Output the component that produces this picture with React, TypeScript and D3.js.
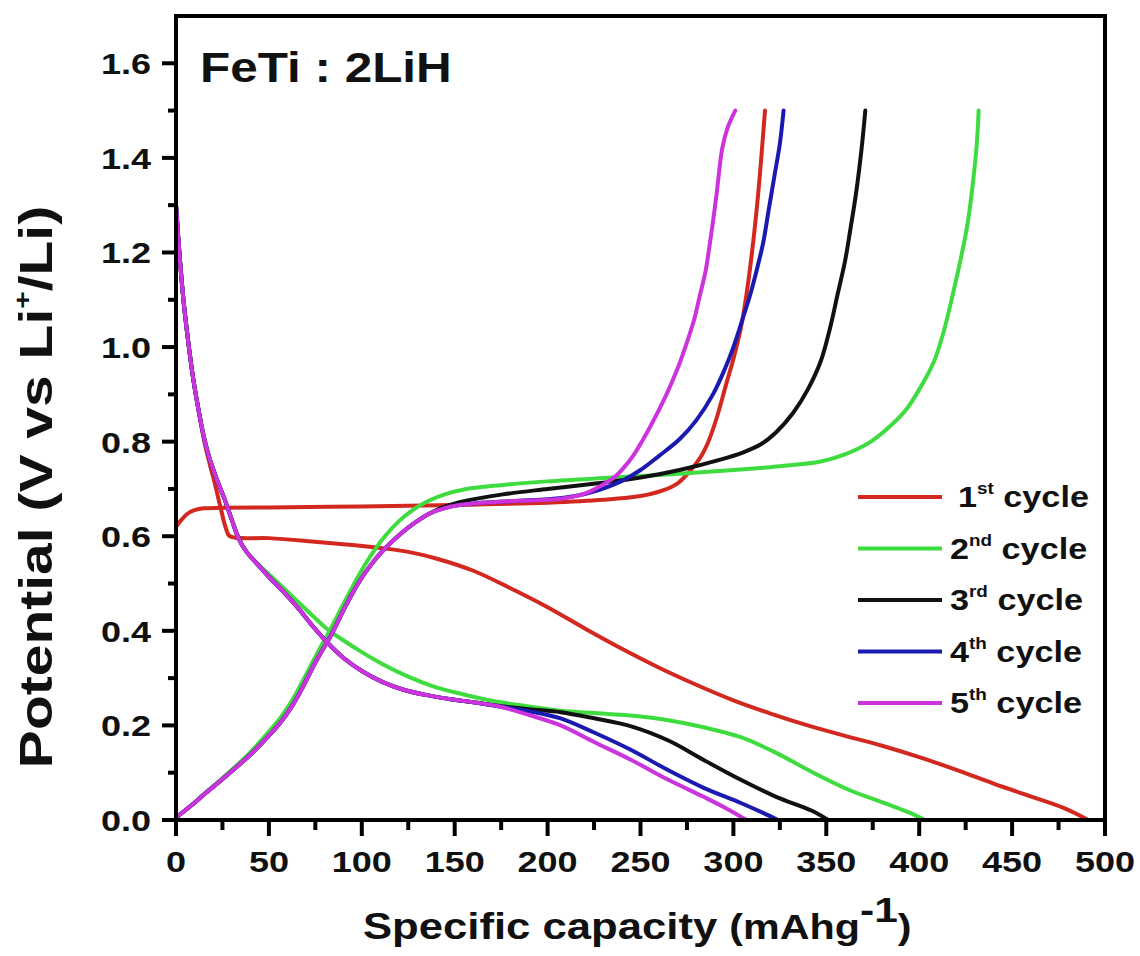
import React from "react";
import * as d3 from "d3";

type Pt = [number, number];

// Specific capacity (mAh/g) vs potential (V) for each galvanostatic cycle
const cycle1Discharge: Pt[] = [
  [0, 1.3], [2, 1.19], [4, 1.1], [6, 1.03], [9, 0.94], [12, 0.87], [15, 0.805], [18, 0.755],
  [21, 0.71], [24, 0.66], [27, 0.615], [29, 0.6], [50, 0.596], [70, 0.59], [90, 0.583],
  [110, 0.575], [125, 0.567], [140, 0.553], [160, 0.527], [180, 0.49], [200, 0.45],
  [220, 0.405], [240, 0.362], [260, 0.322], [280, 0.286], [300, 0.253], [320, 0.225],
  [340, 0.2], [360, 0.178], [380, 0.157], [400, 0.133], [420, 0.106], [440, 0.077],
  [460, 0.05], [478, 0.025], [491, 0.0],
];
const cycle1Charge: Pt[] = [
  [0, 0.62], [3, 0.635], [6, 0.647], [10, 0.655], [15, 0.659], [25, 0.66], [50, 0.661],
  [100, 0.663], [150, 0.666], [200, 0.671], [230, 0.677], [250, 0.685], [262, 0.697],
  [270, 0.712], [276, 0.735], [282, 0.765], [286, 0.795], [291, 0.85], [296, 0.92],
  [300, 0.975], [304, 1.04], [307, 1.11], [310, 1.2], [313, 1.31], [315, 1.4], [317, 1.5],
];

const cycle2Discharge: Pt[] = [
  [0, 1.3], [2, 1.19], [4, 1.1], [6, 1.03], [9, 0.94], [12, 0.87], [15, 0.81], [18, 0.765],
  [22, 0.72], [26, 0.68], [30, 0.635], [34, 0.593], [38, 0.567], [44, 0.542], [51, 0.516],
  [58, 0.49], [66, 0.46], [74, 0.43], [81, 0.405], [90, 0.38], [100, 0.355], [111, 0.33],
  [125, 0.303], [138, 0.283], [150, 0.27], [170, 0.252], [190, 0.24], [207, 0.231],
  [225, 0.226], [245, 0.221], [265, 0.211], [284, 0.196], [304, 0.175], [323, 0.142],
  [342, 0.102], [362, 0.064], [381, 0.036], [395, 0.015], [403, 0.0],
];
const cycle2Charge: Pt[] = [
  [0, 0.005], [8, 0.03], [16, 0.058], [24, 0.085], [32, 0.113], [40, 0.143], [48, 0.178],
  [56, 0.215], [62, 0.25], [67, 0.285], [75, 0.345], [84, 0.41], [91, 0.463], [98, 0.515],
  [105, 0.56], [112, 0.598], [120, 0.632], [128, 0.657], [136, 0.675], [145, 0.689],
  [155, 0.699], [175, 0.708], [200, 0.716], [235, 0.724], [271, 0.732], [300, 0.74],
  [325, 0.748], [347, 0.758], [360, 0.773], [374, 0.8], [385, 0.835], [393, 0.868],
  [400, 0.91], [408, 0.97], [413, 1.03], [418, 1.11], [422, 1.18], [426, 1.26],
  [429, 1.35], [431, 1.43], [432, 1.5],
];

const cycle3Discharge: Pt[] = [
  [0, 1.3], [2, 1.19], [4, 1.1], [6, 1.03], [9, 0.94], [12, 0.87], [15, 0.81], [18, 0.765],
  [22, 0.72], [26, 0.68], [30, 0.635], [34, 0.593], [38, 0.567], [44, 0.54], [51, 0.51],
  [58, 0.482], [66, 0.447], [74, 0.408], [81, 0.377], [90, 0.343], [100, 0.315],
  [111, 0.292], [122, 0.276], [135, 0.264], [147, 0.256], [160, 0.249], [174, 0.241],
  [190, 0.234], [207, 0.228], [225, 0.215], [245, 0.198], [265, 0.168], [284, 0.127],
  [304, 0.085], [323, 0.049], [342, 0.02], [351, 0.0],
];
const cycle3Charge: Pt[] = [
  [0, 0.005], [8, 0.03], [16, 0.057], [24, 0.083], [32, 0.11], [40, 0.138], [48, 0.17],
  [56, 0.205], [62, 0.238], [67, 0.272], [75, 0.333], [84, 0.395], [91, 0.45], [98, 0.5],
  [105, 0.54], [112, 0.572], [120, 0.602], [128, 0.627], [136, 0.647], [145, 0.663],
  [155, 0.674], [175, 0.688], [200, 0.7], [227, 0.712], [250, 0.724], [271, 0.74],
  [293, 0.762], [305, 0.777], [315, 0.795], [323, 0.82], [332, 0.86], [340, 0.91],
  [347, 0.97], [352, 1.04], [356, 1.11], [360, 1.18], [363, 1.25], [366, 1.325],
  [369, 1.42], [371, 1.5],
];

const cycle4Discharge: Pt[] = [
  [0, 1.3], [2, 1.19], [4, 1.1], [6, 1.03], [9, 0.94], [12, 0.87], [15, 0.81], [18, 0.765],
  [22, 0.72], [26, 0.68], [30, 0.635], [34, 0.593], [38, 0.567], [44, 0.54], [51, 0.51],
  [58, 0.482], [66, 0.447], [74, 0.408], [81, 0.377], [90, 0.343], [100, 0.315],
  [111, 0.292], [122, 0.276], [135, 0.264], [147, 0.256], [160, 0.249], [174, 0.24],
  [190, 0.23], [207, 0.215], [225, 0.185], [245, 0.148], [265, 0.105], [284, 0.068],
  [304, 0.036], [316, 0.015], [324, 0.0],
];
const cycle4Charge: Pt[] = [
  [0, 0.005], [8, 0.03], [16, 0.057], [24, 0.083], [32, 0.11], [40, 0.138], [48, 0.17],
  [56, 0.205], [62, 0.238], [67, 0.272], [75, 0.333], [84, 0.395], [91, 0.45], [98, 0.5],
  [105, 0.54], [112, 0.572], [120, 0.602], [128, 0.627], [136, 0.647], [145, 0.66],
  [155, 0.667], [170, 0.672], [185, 0.675], [200, 0.678], [215, 0.685], [227, 0.697],
  [240, 0.717], [250, 0.74], [260, 0.77], [271, 0.805], [280, 0.845], [289, 0.9],
  [295, 0.95], [300, 1.0], [305, 1.06], [309, 1.11], [313, 1.17], [316, 1.22],
  [319, 1.29], [322, 1.36], [325, 1.43], [327, 1.5],
];

const cycle5Discharge: Pt[] = [
  [0, 1.3], [2, 1.19], [4, 1.1], [6, 1.03], [9, 0.94], [12, 0.87], [15, 0.81], [18, 0.765],
  [22, 0.72], [26, 0.68], [30, 0.635], [34, 0.593], [38, 0.567], [44, 0.54], [51, 0.51],
  [58, 0.482], [66, 0.447], [74, 0.408], [81, 0.377], [90, 0.343], [100, 0.315],
  [111, 0.292], [122, 0.276], [135, 0.264], [147, 0.256], [160, 0.249], [174, 0.24],
  [190, 0.222], [207, 0.2], [225, 0.165], [245, 0.127], [265, 0.085], [284, 0.049],
  [296, 0.025], [307, 0.0],
];
const cycle5Charge: Pt[] = [
  [0, 0.005], [8, 0.03], [16, 0.057], [24, 0.083], [32, 0.11], [40, 0.138], [48, 0.17],
  [56, 0.205], [62, 0.238], [67, 0.272], [75, 0.333], [84, 0.395], [91, 0.45], [98, 0.5],
  [105, 0.54], [112, 0.572], [120, 0.602], [128, 0.627], [136, 0.647], [145, 0.66],
  [155, 0.667], [170, 0.672], [185, 0.675], [200, 0.677], [210, 0.681], [220, 0.69],
  [228, 0.705], [236, 0.725], [241, 0.745], [246, 0.77], [255, 0.83], [264, 0.9],
  [270, 0.955], [275, 1.01], [279, 1.06], [282, 1.11], [285, 1.16], [287, 1.21],
  [289, 1.265], [291, 1.325], [294, 1.42], [297, 1.465], [301, 1.5],
];

const cycleColors = ["#d2281f", "#3fdc3f", "#111111", "#1a1ab0", "#cc33dd"];
const cycleNumbers = ["1", "2", "3", "4", "5"];
const cycleSuffixes = ["st", "nd", "rd", "th", "th"];
const cycleCurves: Pt[][][] = [
  [cycle1Discharge, cycle1Charge],
  [cycle2Discharge, cycle2Charge],
  [cycle3Discharge, cycle3Charge],
  [cycle4Discharge, cycle4Charge],
  [cycle5Discharge, cycle5Charge],
];

const xMajorTicks = [0, 50, 100, 150, 200, 250, 300, 350, 400, 450, 500];
const xMinorTicks = [25, 75, 125, 175, 225, 275, 325, 375, 425, 475];
const yMajorTicks = [0, 0.2, 0.4, 0.6, 0.8, 1.0, 1.2, 1.4, 1.6];
const yMinorTicks = [0.1, 0.3, 0.5, 0.7, 0.9, 1.1, 1.3, 1.5];

const W = 1140;
const H = 956;
const FONT = "'Liberation Sans', Arial, Helvetica, sans-serif";

export default function App() {
  const x = d3.scaleLinear().domain([0, 500]).range([176, 1105]);
  const y = d3.scaleLinear().domain([0, 1.7]).range([820, 16]);
  const line = d3
    .line<Pt>()
    .x((d) => x(d[0]))
    .y((d) => y(d[1]))
    .curve(d3.curveCatmullRom.alpha(0.5));

  const [x0, x1] = x.range();
  const [yb, yt] = y.range();

  return (
    <svg
      width={W}
      height={H}
      viewBox={`0 0 ${W} ${H}`}
      style={{ position: "absolute", left: 0, top: 0, background: "#fff" }}
      fontFamily={FONT}
      fontWeight="bold"
    >
      <rect x={0} y={0} width={W} height={H} fill="#fff" />

      {/* cycle curves: discharge and charge branch per cycle */}
      <g fill="none" strokeWidth={4} strokeLinejoin="round" strokeLinecap="round">
        {cycleCurves.map((curves, i) =>
          curves.map((pts, j) => (
            <path key={`${i}-${j}`} d={line(pts) ?? ""} stroke={cycleColors[i]} />
          ))
        )}
      </g>

      {/* frame */}
      <rect
        x={x0}
        y={yt}
        width={x1 - x0}
        height={yb - yt}
        fill="none"
        stroke="#000"
        strokeWidth={4}
      />

      {/* outward ticks */}
      <g stroke="#000" strokeWidth={4}>
        {yMajorTicks.map((t) => (
          <line key={`ym${t}`} x1={x0 - 14} x2={x0} y1={y(t)} y2={y(t)} />
        ))}
        {yMinorTicks.map((t) => (
          <line key={`yn${t}`} x1={x0 - 8} x2={x0} y1={y(t)} y2={y(t)} />
        ))}
        {xMajorTicks.map((t) => (
          <line key={`xm${t}`} x1={x(t)} x2={x(t)} y1={yb} y2={yb + 16} />
        ))}
        {xMinorTicks.map((t) => (
          <line key={`xn${t}`} x1={x(t)} x2={x(t)} y1={yb} y2={yb + 10} />
        ))}
      </g>

      {/* tick labels */}
      <g fontSize={30} fill="#111">
        {yMajorTicks.map((t) => (
          <text
            key={`yl${t}`}
            transform={`translate(${x0 - 25},${y(t) + 11}) scale(1.2,1)`}
            textAnchor="end"
          >
            {t.toFixed(1)}
          </text>
        ))}
        {xMajorTicks.map((t) => (
          <text
            key={`xl${t}`}
            transform={`translate(${x(t)},${yb + 52}) scale(1.2,1)`}
            textAnchor="middle"
          >
            {t}
          </text>
        ))}
      </g>

      {/* axis titles */}
      <text transform={`translate(363,939) scale(1.18,1)`} fill="#111">
        <tspan fontSize={37}>Specific capacity </tspan>
        <tspan fontSize={35}>(mAhg</tspan>
        <tspan fontSize={36} dy={-17}>-1</tspan>
        <tspan fontSize={35} dy={17}>)</tspan>
      </text>
      <text
        transform={`translate(52,487) rotate(-90) scale(1.24,1)`}
        textAnchor="middle"
        fill="#111"
        fontSize={46}
      >
        <tspan>Potential (V vs Li</tspan>
        <tspan fontSize={24} dy={-21}>+</tspan>
        <tspan dy={21}>/Li)</tspan>
      </text>

      {/* sample label */}
      <text transform={`translate(200,82) scale(1.15,1)`} fontSize={43} fill="#111">
        FeTi : 2LiH
      </text>

      {/* legend */}
      {cycleNumbers.map((n, i) => {
        const ly = 497 + i * 51.5;
        return (
          <g key={`lg${n}`}>
            <line x1={858} x2={942} y1={ly} y2={ly} stroke={cycleColors[i]} strokeWidth={4} />
            <text
              transform={`translate(${i === 0 ? 958 : 950},${ly + 10}) scale(1.18,1)`}
              fontSize={29}
              fill="#111"
            >
              <tspan>{n}</tspan>
              <tspan fontSize={16} dy={-13}>{cycleSuffixes[i]}</tspan>
              <tspan dy={13}> cycle</tspan>
            </text>
          </g>
        );
      })}
    </svg>
  );
}
